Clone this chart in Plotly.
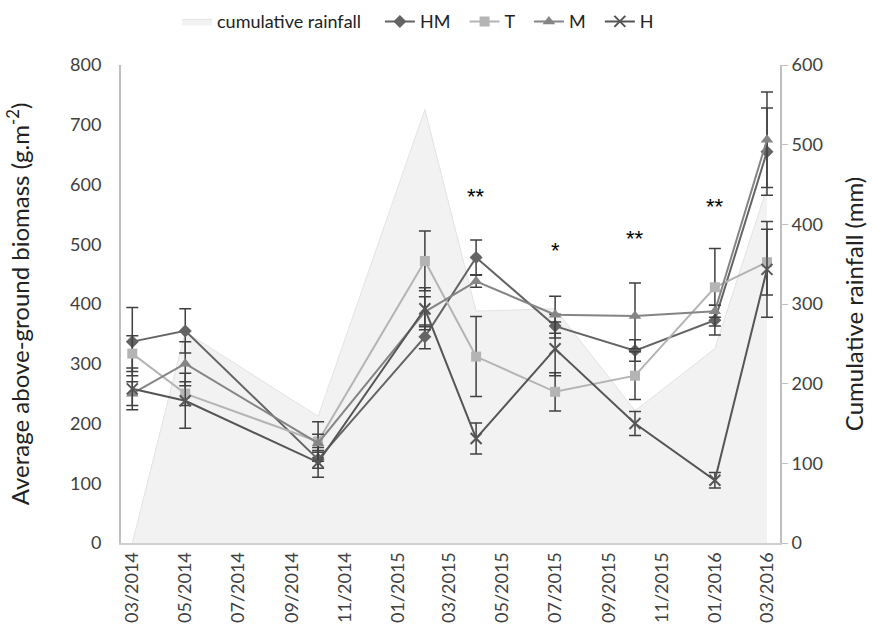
import plotly.graph_objects as go

# Sampling dates (first of month)
dates = ["2014-03-01", "2014-05-01", "2014-10-01", "2015-02-01", "2015-04-01",
         "2015-07-01", "2015-10-01", "2016-01-01", "2016-03-01"]

# Cumulative rainfall between samplings (mm)
rainfall = [0, 265, 159, 544, 291, 294, 166, 244, 446]

# Average above-ground biomass (g.m-2) and error bars per treatment
hm = [337, 355, 140, 345, 478, 363, 322, 373, 655]
hm_err = [57, 37, 15, 20, 29, 20, 18, 25, 73]
t = [317, 250, 170, 472, 312, 253, 280, 428, 470]
t_err = [30, 20, 33, 50, 67, 32, 40, 65, 55]
m = [250, 300, 167, 387, 438, 382, 380, 388, 675]
m_err = [20, 37, 15, 25, 10, 31, 55, 10, 80]
h = [258, 238, 135, 392, 175, 325, 200, 105, 458]
h_err = [35, 46, 25, 35, 26, 45, 20, 13, 80]

# Significance marks
sig_dates = ["2015-04-01", "2015-07-01", "2015-10-01", "2016-01-01"]
sig_labels = ["**", "*", "**", "**"]
sig_y = [580, 490, 510, 564]

FONT = "Lato"
TXT = "#404040"
ERR = "#404040"
PAD = "\u00a0\u00a0"  # extra room after each legend label

fig = go.Figure()

fig.add_trace(go.Scatter(
    x=dates, y=rainfall, name="cumulative rainfall" + PAD + "\u00a0", yaxis="y",
    mode="lines", fill="tozeroy", fillcolor="#f2f2f2",
    line=dict(color="#e3e3e3", width=1),
))


def series(name, y, err, color, symbol, size, lw=2, mline=None):
    marker = dict(symbol=symbol, size=size, color=color)
    if mline is not None:
        marker["line"] = mline
    return go.Scatter(
        x=dates, y=y, name=name, yaxis="y2", mode="lines+markers",
        line=dict(color=color, width=lw), marker=marker,
        error_y=dict(type="data", array=err, visible=True, color=ERR,
                     thickness=1.5, width=6),
    )


fig.add_trace(series("HM" + PAD, hm, hm_err, "#646464", "diamond", 10))
fig.add_trace(series("T" + PAD, t, t_err, "#b4b4b4", "square", 10))
fig.add_trace(series("M" + PAD, m, m_err, "#858585", "triangle-up", 11))
fig.add_trace(series("H", h, h_err, "#555555", "x-thin", 11,
                     mline=dict(color="#555555", width=2)))

for d, lab, yv in zip(sig_dates, sig_labels, sig_y):
    fig.add_annotation(x=d, y=yv, xref="x", yref="y2", text=lab,
                       showarrow=False,
                       font=dict(family="Liberation Sans", size=22, color="#000000"))

fig.update_layout(
    width=883, height=635,
    margin=dict(l=121, r=103, t=65, b=90),
    paper_bgcolor="white", plot_bgcolor="white",
    font=dict(family=FONT, size=18, color=TXT),
    showlegend=True,
    legend=dict(orientation="h", x=0.085, xanchor="left", y=0.995, yanchor="top",
                yref="container", font=dict(family=FONT, size=18, color="#222222"),
                traceorder="normal", itemwidth=30),
    xaxis=dict(
        type="date", range=["2014-02-16", "2016-03-16"],
        dtick="M2", tick0="2014-03-01", tickformat="%m/%Y", tickangle=-90,
        showgrid=False, showline=True, linecolor="#d0d0d0", linewidth=2,
        ticks="", tickfont=dict(family=FONT, size=18, color=TXT), zeroline=False,
    ),
    yaxis=dict(
        side="right", range=[0, 600], dtick=100, showgrid=False, zeroline=False,
        showline=True, linecolor="#bfbfbf", linewidth=2,
        ticks="outside", ticklen=6, tickcolor="#bfbfbf",
        tickfont=dict(family=FONT, size=18, color=TXT),
        title=dict(text="Cumulative rainfall (mm)",
                   font=dict(family=FONT, size=24, color="#222222"), standoff=24),
    ),
    yaxis2=dict(
        side="left", overlaying="y", range=[0, 800], dtick=100, showgrid=False,
        zeroline=False, showline=True, linecolor="#bfbfbf", linewidth=2, ticks="",
        ticklabelstandoff=14,
        tickfont=dict(family=FONT, size=18, color=TXT),
        title=dict(text="Average above-ground biomass (g.m<sup>-2</sup>)",
                   font=dict(family=FONT, size=24, color="#222222"), standoff=34),
    ),
)

fig.write_html("out.html")
